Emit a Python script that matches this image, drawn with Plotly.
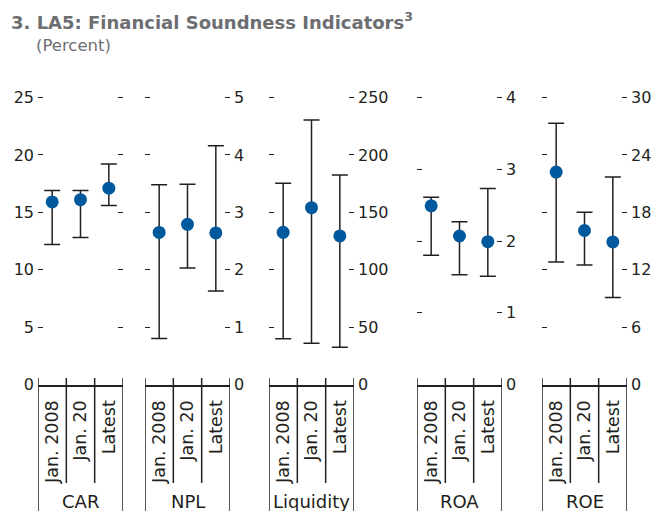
import plotly.graph_objects as go

groups = ["CAR", "NPL", "Liquidity", "ROA", "ROE"]
periods = ["Jan. 2008", "Jan. 20", "Latest"]

# median dot, upper and lower bound for each indicator
car_mid = [15.9, 16.1, 17.1]
car_hi = [16.9, 16.9, 19.2]
car_lo = [12.2, 12.8, 15.6]

npl_mid = [2.65, 2.79, 2.64]
npl_hi = [3.48, 3.49, 4.16]
npl_lo = [0.80, 2.03, 1.63]

liq_mid = [132.6, 154.0, 129.4]
liq_hi = [175.3, 230.4, 182.5]
liq_lo = [39.9, 35.9, 32.4]

roa_mid = [2.49, 2.07, 1.99]
roa_hi = [2.61, 2.27, 2.73]
roa_lo = [1.80, 1.53, 1.51]

roe_mid = [22.2, 16.1, 14.9]
roe_hi = [27.3, 18.0, 21.7]
roe_lo = [12.8, 12.5, 9.1]

axis_max = [25, 5, 250, 4, 30]
axis_step = [5, 1, 50, 1, 6]

series = [
    (car_mid, car_hi, car_lo),
    (npl_mid, npl_hi, npl_lo),
    (liq_mid, liq_hi, liq_lo),
    (roa_mid, roa_hi, roa_lo),
    (roe_mid, roe_hi, roe_lo),
]

# the page body has an 8px margin, so the figure is shrunk to fit the window
OFF = 8
W, H = 660 - OFF, 511 - OFF


def px(x):
    return (x - OFF) / W


def py(y):
    return 1 - (y - OFF) / H


# panel left/right edges in window pixels
panel_px = [(38, 123), (145, 230), (269, 354), (417, 502), (542, 627)]
y_bottom_px, y_top_px = 384.5, 97.5
# a little headroom so plotly keeps the inside tick at the top value
PAD = 3
stretch = (y_bottom_px - y_top_px + PAD) / (y_bottom_px - y_top_px)

INK = "#231f20"
GREY = "#6d6e71"
BLUE = "#00599c"
FONT = "DejaVu Sans"

fig = go.Figure()
layout = dict(
    width=W, height=H,
    margin=dict(l=0, r=0, t=0, b=0, autoexpand=False),
    paper_bgcolor="white", plot_bgcolor="white",
    showlegend=False,
    font=dict(family=FONT, color=INK, size=16),
)
shapes = []
annotations = []

for i, (mid, hi, lo) in enumerate(series):
    n = "" if i == 0 else str(i + 1)
    xa, ya = "x" + n, "y" + n
    fig.add_trace(go.Scatter(
        x=periods, y=mid, xaxis=xa, yaxis=ya,
        mode="markers",
        marker=dict(color=BLUE, size=13),
        error_y=dict(
            type="data", symmetric=False,
            array=[h - m for h, m in zip(hi, mid)],
            arrayminus=[m - l for m, l in zip(mid, lo)],
            color=INK, thickness=1.5, width=8,
        ),
        cliponaxis=False,
    ))

    x0p, x1p = panel_px[i]
    layout["xaxis" + n] = dict(
        domain=[px(x0p), px(x1p)],
        anchor=ya,
        type="category",
        range=[-0.5, 2.5],
        showline=True, linecolor=INK, linewidth=1.5,
        ticks="", tickangle=-90,
        ticklabelstandoff=7,
        tickfont=dict(size=17.5, color=INK),
        showgrid=False, zeroline=False, fixedrange=True,
        automargin=False,
    )
    m = axis_max[i]
    s = axis_step[i]
    layout["yaxis" + n] = dict(
        domain=[py(y_bottom_px), py(y_top_px - PAD)],
        anchor=xa,
        side="left" if i == 0 else "right",
        range=[0, m * stretch],
        tickvals=list(range(0, m + 1, s)),
        ticks="inside", ticklen=5, tickwidth=1.2, tickcolor=INK,
        mirror="ticks", showline=False,
        ticklabelstandoff=3,
        tickfont=dict(size=16, color=INK),
        showgrid=False, zeroline=False, fixedrange=True,
        automargin=False,
    )

    # panel edges and category dividers
    for k, xv in enumerate([-0.5, 0.5, 1.5, 2.5]):
        outer = k in (0, 3)
        shapes.append(dict(
            type="line", xref=xa, yref="paper",
            x0=xv, x1=xv,
            y0=py(378), y1=py(515) if outer else py(483),
            line=dict(color=INK, width=1.5),
        ))
    annotations.append(dict(
        text=groups[i], xref=xa, yref="paper",
        x=1, y=py(501), yanchor="middle",
        showarrow=False, font=dict(size=18, color=INK),
    ))

annotations.append(dict(
    text="<b>3. LA5: Financial Soundness Indicators<sup>3</sup></b>",
    xref="paper", yref="paper", x=px(9), y=py(21),
    xanchor="left", yanchor="middle", showarrow=False,
    font=dict(size=18, color=GREY),
))
annotations.append(dict(
    text="(Percent)",
    xref="paper", yref="paper", x=px(34), y=py(46),
    xanchor="left", yanchor="middle", showarrow=False,
    font=dict(size=16.5, color=GREY),
))

layout["shapes"] = shapes
layout["annotations"] = annotations
fig.update_layout(**layout)

fig.write_html("out.html")
